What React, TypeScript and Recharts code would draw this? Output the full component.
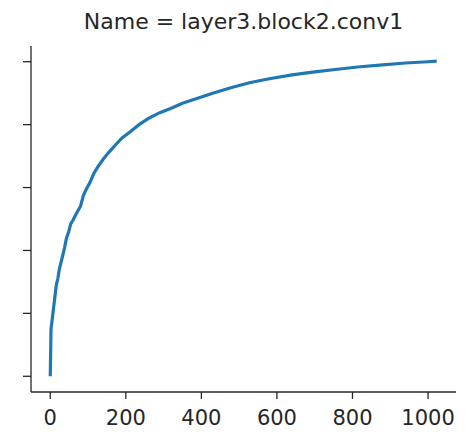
import { LineChart, Line, XAxis, YAxis } from 'recharts'

const steps = [
  0, 2, 4, 6, 8, 10, 13, 16, 20, 24, 28, 33, 38, 43, 48, 54, 60, 66, 72, 80, 88, 96, 105, 115, 125, 140, 155,
  170, 190, 210, 235, 260, 290, 320, 350, 390, 430, 480, 530, 580, 640, 700, 760, 820, 880, 940, 1000, 1023,
]
const values = [
  0, 0.75, 0.85, 0.95, 1.05, 1.15, 1.3, 1.45, 1.55, 1.7, 1.8, 1.92, 2.05, 2.2, 2.28, 2.42, 2.48, 2.55, 2.62,
  2.7, 2.88, 2.98, 3.08, 3.22, 3.32, 3.45, 3.56, 3.66, 3.79, 3.88, 4.0, 4.1, 4.19, 4.26, 4.34, 4.42, 4.5, 4.59,
  4.67, 4.73, 4.79, 4.84, 4.88, 4.92, 4.95, 4.98, 5.0, 5.01,
]
const xTicks = [0, 200, 400, 600, 800, 1000]
const yTicks = [0, 1, 2, 3, 4, 5]
const title = 'Name = layer3.block2.conv1'

const data = steps.map((s, i) => ({ step: s, value: values[i] }))

const ink = '#262626'
const font = '"DejaVu Sans", sans-serif'

export default function App() {
  return (
    <div style={{ position: 'absolute', left: 0, top: 0, width: 467, height: 439, background: '#fff', fontFamily: font }}>
      <div
        style={{
          position: 'absolute',
          left: 31,
          width: 425,
          top: 8,
          textAlign: 'center',
          fontSize: 22,
          color: ink,
          lineHeight: '28px',
        }}
      >
        {title}
      </div>
      <LineChart width={467} height={439} data={data} margin={{ top: 46, right: 11, bottom: 0, left: 0 }}>
        <XAxis
          dataKey="step"
          type="number"
          domain={[-51, 1074]}
          ticks={xTicks}
          height={47}
          stroke={ink}
          tickSize={7}
          tickMargin={11}
          tick={{ fill: ink, fontSize: 21, fontFamily: font }}
          axisLine={{ stroke: ink, strokeWidth: 1.3 }}
          tickLine={{ stroke: ink, strokeWidth: 1.3 }}
          allowDataOverflow
        />
        <YAxis
          type="number"
          domain={[-0.25, 5.25]}
          ticks={yTicks}
          width={31}
          stroke={ink}
          tickSize={8}
          tick={() => <g />}
          axisLine={{ stroke: ink, strokeWidth: 1.3 }}
          tickLine={{ stroke: ink, strokeWidth: 1.3 }}
          allowDataOverflow
        />
        <Line
          type="linear"
          dataKey="value"
          stroke="#1f77b4"
          strokeWidth={3.2}
          dot={false}
          isAnimationActive={false}
        />
      </LineChart>
    </div>
  )
}
